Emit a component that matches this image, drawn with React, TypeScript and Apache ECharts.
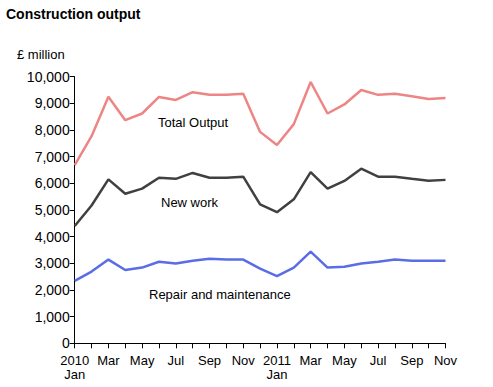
import React, { useEffect, useRef } from "react";
import * as echarts from "echarts";

const months = [
  "2010\nJan", "Feb", "Mar", "Apr", "May", "Jun", "Jul", "Aug", "Sep", "Oct", "Nov", "Dec",
  "2011\nJan", "Feb", "Mar", "Apr", "May", "Jun", "Jul", "Aug", "Sep", "Oct", "Nov",
];

const totalOutput = [
  6680, 7770, 9250, 8370, 8620, 9240, 9130, 9420, 9320, 9320, 9360, 7930,
  7440, 8220, 9800, 8620, 8960, 9500, 9320, 9360, 9270, 9160, 9200,
];

const newWork = [
  4400, 5170, 6150, 5610, 5800, 6210, 6170, 6390, 6210, 6210, 6250, 5210,
  4920, 5400, 6420, 5800, 6090, 6550, 6250, 6250, 6170, 6100, 6130,
];

const repair = [
  2340, 2690, 3140, 2750, 2840, 3060, 2990, 3100, 3170, 3140, 3140, 2800,
  2520, 2840, 3440, 2840, 2870, 2990, 3060, 3140, 3100, 3100, 3100,
];

const seriesNames = ["Total Output", "New work", "Repair and maintenance"];
const seriesColors = ["#ee8585", "#404040", "#5a6ce6"];

export default function App() {
  const ref = useRef<HTMLDivElement>(null);
  useEffect(() => {
    if (!ref.current) return;
    const chart = echarts.init(ref.current, null, { renderer: "svg" });
    const font = "Arial, 'Liberation Sans', sans-serif";
    const dataSets = [totalOutput, newWork, repair];
    chart.setOption({
      animation: false,
      backgroundColor: "#ffffff",
      title: {
        text: "Construction output",
        left: 6,
        top: 7,
        padding: 0,
        textStyle: { fontFamily: font, fontSize: 14, fontWeight: "bold", color: "#000" },
      },
      grid: { left: 74.7, right: 47.5, top: 76.7, bottom: 43.7, containLabel: false, outerBoundsMode: "none" },
      xAxis: {
        type: "category",
        data: months,
        boundaryGap: false,
        axisLine: { lineStyle: { color: "#000", width: 1 } },
        axisTick: { show: true, interval: 0, length: 5, lineStyle: { color: "#000" } },
        axisLabel: {
          interval: 1,
          margin: 10,
          fontFamily: font,
          fontSize: 13,
          lineHeight: 14,
          color: "#000",
        },
        splitLine: { show: false },
      },
      yAxis: {
        type: "value",
        min: 0,
        max: 10000,
        interval: 1000,
        axisLine: { show: true, lineStyle: { color: "#000", width: 1 } },
        axisTick: { show: true, length: 5, lineStyle: { color: "#000" } },
        axisLabel: {
          margin: 5,
          fontFamily: font,
          fontSize: 14,
          color: "#000",
          formatter: (v: number) => v.toLocaleString("en-US"),
        },
        splitLine: { show: false },
      },
      series: dataSets.map((d, i) => ({
        name: seriesNames[i],
        type: "line",
        data: d,
        symbol: "none",
        lineStyle: { color: seriesColors[i], width: 2.5 },
        itemStyle: { color: seriesColors[i] },
      })),
      graphic: [
        {
          type: "text",
          left: 17,
          top: 48,
          style: { text: "£ million", font: `13px ${font}`, fill: "#000" },
        },
        {
          type: "text",
          x: 158,
          y: 122,
          style: { text: "Total Output", font: `13px ${font}`, fill: "#000", verticalAlign: "middle" },
        },
        {
          type: "text",
          x: 161,
          y: 202,
          style: { text: "New work", font: `13px ${font}`, fill: "#000", verticalAlign: "middle" },
        },
        {
          type: "text",
          x: 149,
          y: 294,
          style: { text: "Repair and maintenance", font: `13px ${font}`, fill: "#000", verticalAlign: "middle" },
        },
      ],
    });
    return () => chart.dispose();
  }, []);
  return (
    <div
      ref={ref}
      style={{ position: "fixed", left: 0, top: 0, width: 493, height: 387, background: "#fff" }}
    />
  );
}
